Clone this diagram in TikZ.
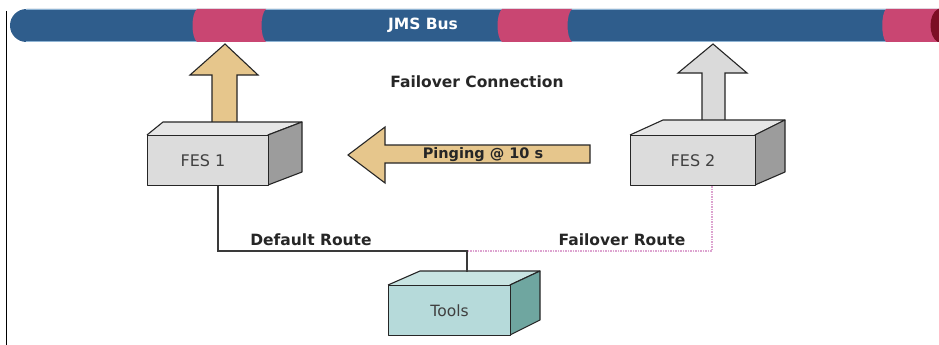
\documentclass[tikz,border=0pt]{standalone}
\usepackage{fontspec}
\setmainfont{DejaVu Sans}
\definecolor{busblue}{HTML}{2F5D8C}
\definecolor{busedge}{HTML}{8FB4D4}
\definecolor{buspink}{HTML}{C94672}
\definecolor{busred}{HTML}{7C0E24}
\definecolor{tan}{HTML}{E6C68C}
\definecolor{greyfront}{HTML}{DCDCDC}
\definecolor{greytop}{HTML}{E6E6E6}
\definecolor{greyside}{HTML}{9C9C9C}
\definecolor{greyarrow}{HTML}{DADADA}
\definecolor{teafront}{HTML}{B6DADA}
\definecolor{teatop}{HTML}{C8E4E2}
\definecolor{teaside}{HTML}{6FA6A0}
\definecolor{routegrey}{HTML}{3A3A3A}
\definecolor{routepink}{HTML}{DDA4D0}
\tikzset{
  lbl/.style={font=\fontsize{15.5}{18}\selectfont\bfseries, text=black!85, inner sep=0pt},
  pinglbl/.style={font=\fontsize{14.5}{17}\selectfont\bfseries, text=black!85, inner sep=0pt},
  boxlbl/.style={font=\fontsize{16}{18}\selectfont, text=black!75, inner sep=0pt},
  face/.style={draw=black!85, line width=1.1pt, line join=round},
  blockarrow/.style={draw=black!85, line width=1.1pt, line join=miter},
  defroute/.style={draw=routegrey, line width=1.3pt},
  failroute/.style={draw=routepink, line width=1.2pt, dash pattern=on 1.5pt off 1pt},
}
\begin{document}
\begin{tikzpicture}[x=1pt,y=-1pt]
\useasboundingbox (0,0) rectangle (939,345);
\fill[white] (0,0) rectangle (939,345);
\begin{scope}
\clip (0,0) rectangle (939,345);
% bus
\fill[busblue, rounded corners=16.5pt] (10,9) rectangle (980,42);
\draw[busedge, line width=0.8pt] (26,9.3) -- (939,9.3);
\draw[busedge, line width=0.8pt] (26,41.7) -- (939,41.7);
\fill[buspink] (197,9) .. controls (191,14) and (191,37) .. (197,42) -- (266,42) .. controls (260,37) and (260,14) .. (266,9) -- cycle;
\fill[buspink] (502,9) .. controls (496,14) and (496,37) .. (502,42) -- (572,42) .. controls (566,37) and (566,14) .. (572,9) -- cycle;
\fill[buspink] (886,9) .. controls (881,14) and (881,37) .. (886,42) -- (945,42) -- (945,9) -- cycle;
\fill[busred] (938,9) .. controls (928,14) and (928,37) .. (938,42) -- (945,42) -- (945,9) -- cycle;
\end{scope}
\node[font=\fontsize{15.5}{18}\selectfont\bfseries, text=white, inner sep=0pt] (bus) at (423,25.5) {JMS Bus};
% left border
\draw[black, line width=1.6pt] (6.5,11) -- (6.5,345);

% up arrows
\draw[blockarrow, fill=tan] (225,44) -- (258,75) -- (237,75) -- (237,123) -- (212,123) -- (212,75) -- (190,75) -- cycle;
\draw[blockarrow, fill=greyarrow] (713,44) -- (747,73) -- (725,73) -- (725,121) -- (702,121) -- (702,73) -- (678,73) -- cycle;

% Failover connection
\node[lbl] (fc) at (477,82) {Failover Connection};

% ping arrow
\draw[blockarrow, fill=tan] (348,155) -- (385,127) -- (385,145) -- (590,145) -- (590,163) -- (385,163) -- (385,183) -- cycle;
\node[pinglbl] (ping) at (483,154.5) {Pinging @ 10 s};

% FES 1 box
\fill[greytop] (147,135) -- (163,122) -- (302,122) -- (268,135) -- cycle;
\draw[face] (147,135) -- (163,122) -- (302,122) -- (268,135);
\draw[face, fill=greyside] (268,135) -- (302,122) -- (302,172) -- (268,185) -- cycle;
\node[face, fill=greyfront, minimum width=121pt, minimum height=50pt, anchor=north west, inner sep=0pt] (fes1) at (147,135) {};
\node[boxlbl] (fes1lbl) at ([xshift=-5pt]fes1.center) {FES 1};

% FES 2 box
\fill[greytop] (630,135) -- (663,120) -- (785,120) -- (755,135) -- cycle;
\draw[face] (630,135) -- (663,120) -- (785,120) -- (755,135);
\draw[face, fill=greyside] (755,135) -- (785,120) -- (785,172) -- (755,185) -- cycle;
\node[face, fill=greyfront, minimum width=125pt, minimum height=50pt, anchor=north west, inner sep=0pt] (fes2) at (630,135) {};
\node[boxlbl] (fes2lbl) at (fes2.center) {FES 2};

% Tools box
\fill[teatop] (388,285) -- (420,271) -- (540,271) -- (510,285) -- cycle;
\draw[face] (388,285) -- (420,271) -- (540,271) -- (510,285);
\draw[face, fill=teaside] (510,285) -- (540,271) -- (540,320) -- (510,335) -- cycle;
\node[face, fill=teafront, minimum width=122pt, minimum height=50pt, anchor=north west, inner sep=0pt] (tools) at (388,285) {};
\node[boxlbl, font=\fontsize{15.5}{18}\selectfont] (toolslbl) at (tools.center) {Tools};

% routes
\coordinate (d1) at (218,0);
\coordinate (f1) at (712,0);
\coordinate (junc) at (467,251);
\coordinate (toolstop) at (467,272);
\draw[failroute] (fes2.south -| f1) |- (junc);
\draw[defroute] (fes1.south -| d1) |- (junc) -- (toolstop);
\node[lbl] (defl) at (311,240) {Default Route};
\node[lbl] (faill) at (622,240) {Failover Route};
\end{tikzpicture}
\end{document}
